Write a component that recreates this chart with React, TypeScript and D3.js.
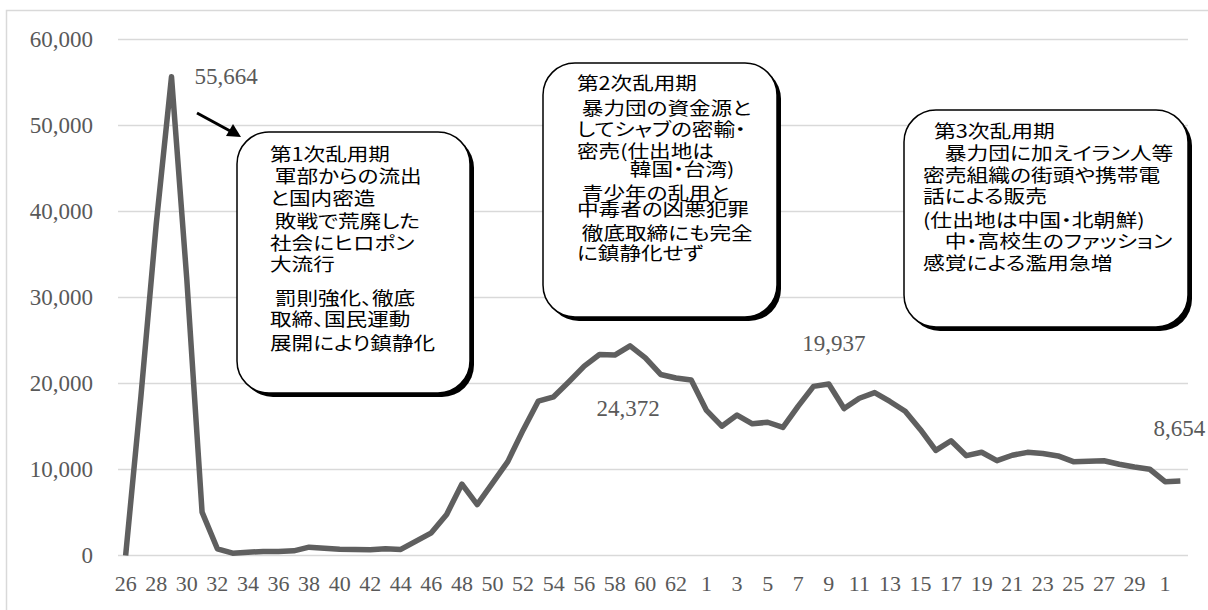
import { useMemo } from 'react';
import * as d3 from 'd3';

const WIDTH = 1208;
const HEIGHT = 610;
const PLOT = { left: 118, right: 1188, top: 39.5, bottom: 555.5 };

// 年（昭和26〜63、平成1〜30、令和1〜2）
const yearLabels = [
  '26', '27', '28', '29', '30', '31', '32', '33', '34', '35', '36', '37', '38', '39',
  '40', '41', '42', '43', '44', '45', '46', '47', '48', '49', '50', '51', '52', '53',
  '54', '55', '56', '57', '58', '59', '60', '61', '62', '63',
  '1', '2', '3', '4', '5', '6', '7', '8', '9', '10', '11', '12', '13', '14', '15',
  '16', '17', '18', '19', '20', '21', '22', '23', '24', '25', '26', '27', '28', '29', '30',
  '1', '2',
];

// 覚醒剤事犯 検挙人員
const arrests = [
  0, 18521, 38514, 55664, 32140, 5047, 781, 271, 374, 476, 477, 546, 971, 856,
  735, 704, 666, 775, 704, 1682, 2634, 4777, 8301, 5919, 8422, 10919, 14573, 17955,
  18452, 20200, 22024, 23365, 23301, 24372, 22980, 21052, 20643, 20399,
  16866, 15038, 16330, 15311, 15495, 14896, 17364, 19666, 19937, 17084, 18285, 18942, 17912,
  16771, 14624, 12220, 13346, 11606, 12009, 11025, 11655, 11993, 11852, 11577, 10909, 10958,
  11022, 10607, 10284, 10030,
  8584, 8654,
];

const yTicks = [0, 10000, 20000, 30000, 40000, 50000, 60000];

// データラベルを付ける点
const labelledPoints = [3, 33, 46, 69];

const box1Lines = [
  '第1次乱用期',
  ' 軍部からの流出',
  'と国内密造',
  ' 敗戦で荒廃した',
  '社会にヒロポン',
  '大流行',
  ' 罰則強化、徹底',
  '取締、国民運動',
  '展開により鎮静化',
];

const box2Lines = [
  '第2次乱用期',
  ' 暴力団の資金源と',
  'してシャブの密輸・',
  '密売(仕出地は',
  '　　  韓国・台湾)',
  ' 青少年の乱用と',
  '中毒者の凶悪犯罪',
  ' 徹底取締にも完全',
  'に鎮静化せず',
];

const box3Lines = [
  '\u2002第3次乱用期',
  '　暴力団に加えイラン人等',
  '密売組織の街頭や携帯電',
  '話による販売',
  '(仕出地は中国・北朝鮮)',
  '　中・高校生のファッション',
  '感覚による濫用急増',
];

const GRAY = '#595959';
const NUM_FONT = '"Liberation Serif", "DejaVu Serif", serif';
const JP_FONT = '"Noto Sans CJK JP", "Noto Sans", sans-serif';

type Box = {
  lines: string[];
  x: number;
  y: number;
  w: number;
  h: number;
  textX: number;
  sx: number;
  baselines: number[];
};

const boxes: Box[] = [
  {
    lines: box1Lines, x: 237, y: 132, w: 233, h: 261, textX: 270, sx: 1.2,
    baselines: [160.6, 183, 204.6, 228, 249.6, 271.3, 304.6, 326.3, 349.6],
  },
  {
    lines: box2Lines, x: 543, y: 63, w: 234, h: 254, textX: 577, sx: 1.2,
    baselines: [89.6, 114.6, 136.3, 158, 176.3, 199.6, 216.3, 239.6, 259.6],
  },
  {
    lines: box3Lines, x: 904, y: 110, w: 284, h: 217, textX: 923, sx: 1.21,
    baselines: [137.6, 159.6, 181.6, 202.6, 226.6, 247.6, 269.6],
  },
];

// ラベル位置のずらし（点からの相対）
const labelOffsets: Record<number, { dx: number; dy: number; anchor: string }> = {
  3: { dx: 23, dy: 7, anchor: 'start' },
  33: { dx: -2, dy: 70, anchor: 'middle' },
  46: { dx: 5, dy: -33, anchor: 'middle' },
  69: { dx: -1, dy: -45, anchor: 'middle' },
};

export default function App() {
  const idx = d3.range(arrests.length);

  const xScale = useMemo(
    () => d3.scalePoint<number>().domain(idx).range([PLOT.left, PLOT.right]).padding(0.5),
    []
  );
  const yScale = useMemo(
    () => d3.scaleLinear().domain([0, 60000]).range([PLOT.bottom, PLOT.top]),
    []
  );

  const linePath = d3
    .line<number>()
    .x((d, i) => xScale(i) as number)
    .y((d) => yScale(d))(arrests);

  const fmt = d3.format(',');

  return (
    <svg
      width={WIDTH}
      height={HEIGHT}
      style={{ position: 'absolute', left: 0, top: 0, background: '#fff' }}
    >
      <rect x={6.5} y={10.5} width={1400} height={800} fill="#fff" stroke="#d9d9d9" strokeWidth={1.5} />

      {/* grid + y labels */}
      {yTicks.map((t) => (
        <g key={t}>
          <line x1={PLOT.left} x2={PLOT.right} y1={yScale(t)} y2={yScale(t)} stroke="#d9d9d9" strokeWidth={1.5} />
          <text
            x={93}
            y={yScale(t) + 7.5}
            textAnchor="end"
            fontFamily={NUM_FONT}
            fontSize={23}
            fill={GRAY}
          >
            {fmt(t)}
          </text>
        </g>
      ))}

      {/* x labels */}
      {idx
        .filter((i) => i % 2 === 0)
        .map((i) => (
          <text
            key={i}
            x={xScale(i)}
            y={591}
            textAnchor="middle"
            fontFamily={NUM_FONT}
            fontSize={22}
            fill={GRAY}
          >
            {yearLabels[i]}
          </text>
        ))}

      <path d={linePath || ''} fill="none" stroke="#5f5f5f" strokeWidth={5.5} strokeLinejoin="round" />

      {/* data labels */}
      {labelledPoints.map((i) => {
        const o = labelOffsets[i];
        return (
          <text
            key={i}
            x={(xScale(i) as number) + o.dx}
            y={yScale(arrests[i]) + o.dy}
            textAnchor={o.anchor}
            fontFamily={NUM_FONT}
            fontSize={23}
            fill={GRAY}
          >
            {fmt(arrests[i])}
          </text>
        );
      })}

      {/* arrow */}
      <line x1={197} y1={113} x2={232} y2={132} stroke="#000" strokeWidth={3} />
      <polygon points="241,137 226,136 233,124" fill="#000" />

      {/* callout boxes */}
      {boxes.map((b, k) => (
        <g key={k}>
          <rect x={b.x + 4} y={b.y + 4} width={b.w} height={b.h} rx={32} ry={32} fill="#000" />
          <rect x={b.x} y={b.y} width={b.w} height={b.h} rx={32} ry={32} fill="#fff" stroke="#000" strokeWidth={1.5} />
          {b.lines.map((ln, j) => (
            <g key={j} transform={`translate(${b.textX},${b.baselines[j]}) scale(${b.sx},1)`}>
              <text
                x={0}
                y={0}
                fontFamily={JP_FONT}
                fontSize={18}
                fill="#000"
                style={{ whiteSpace: 'pre', fontFeatureSettings: '"palt"' }}
              >
                {ln}
              </text>
            </g>
          ))}
        </g>
      ))}
    </svg>
  );
}
